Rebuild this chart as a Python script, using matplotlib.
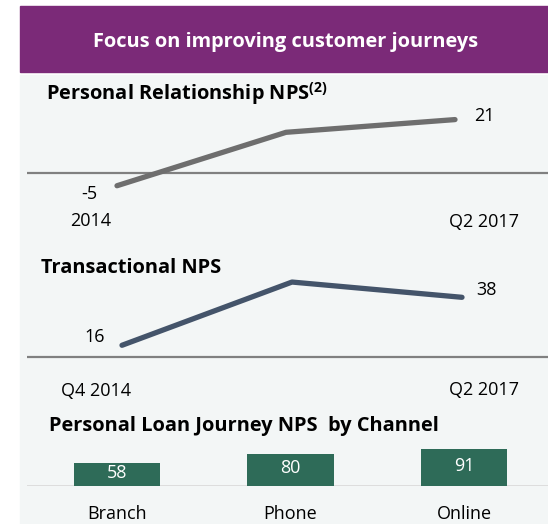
import matplotlib.pyplot as plt
from matplotlib.patches import Rectangle

FONT = 'Open Sans'
plt.rcParams['font.family'] = [FONT, 'DejaVu Sans']
plt.rcParams['mathtext.fontset'] = 'custom'
plt.rcParams['mathtext.rm'] = FONT
plt.rcParams['mathtext.bf'] = FONT + ':bold'

# данные
header = "Focus on improving customer journeys"

rel_title = r"Personal Relationship NPS$^{\mathbf{(2)}}$"
rel_values = [-5, 16, 21]
rel_start, rel_end = "2014", "Q2 2017"

trans_title = "Transactional NPS"
trans_values = [16, 45, 38]
trans_start, trans_end = "Q4 2014", "Q2 2017"
trans_axis_min = 10.5

loan_title = "Personal Loan Journey NPS  by Channel"
channels = ["Branch", "Phone", "Online"]
loan_values = [58, 80, 91]

W, H = 548, 524
fig = plt.figure(figsize=(W / 100, H / 100), dpi=100)
fig.patch.set_facecolor('white')

PURPLE = '#7b2a78'
PANEL = '#f3f6f6'
fig.patches.append(Rectangle((20 / W, 1 - 72 / H), 1 - 20 / W, 66 / H,
                             transform=fig.transFigure, color=PURPLE, zorder=-2))
fig.patches.append(Rectangle((20 / W, 0), 1 - 20 / W, 1 - 75 / H,
                             transform=fig.transFigure, color=PANEL, zorder=-2))
fig.text(286 / W, 1 - 47 / H, header, color='white', fontsize=14.4,
         fontweight='bold', ha='center', va='baseline')

AX_L, AX_R = 27, 548
xs = [0, 1, 2]
FS = 13
TS = 14.4
LW = 3.8


def make_ax(top_px, bottom_px, x0, step):
    ax = fig.add_axes([AX_L / W, 1 - bottom_px / H, (AX_R - AX_L) / W,
                       (bottom_px - top_px) / H])
    ax.set_xlim((AX_L - x0) / step, (AX_R - x0) / step)
    ax.axis('off')
    return ax


def tx(ax, x_px, y, s, **kw):
    # x в пикселях фигуры, y в данных
    x0, x1 = ax.get_xlim()
    x = x0 + (x_px - AX_L) / (AX_R - AX_L) * (x1 - x0)
    kw.setdefault('fontsize', FS)
    ax.text(x, y, s, ha='center', va='center', clip_on=False, **kw)


# 1. Personal Relationship NPS
ax1 = make_ax(100, 230, 117, 169)
ax1.set_ylim(-22.4, 28.7)
ax1.axhline(0, color='#808080', lw=1.6, zorder=1)
ax1.plot(xs, rel_values, color='#6e6e6e', lw=LW, solid_capstyle='round', zorder=2)
tx(ax1, 89, rel_values[0] - 3.2, str(rel_values[0]))
tx(ax1, 484, rel_values[-1] + 1.6, str(rel_values[-1]))
tx(ax1, 91, -18.9, rel_start)
tx(ax1, 484, -19.3, rel_end)
fig.text(46 / W, 1 - 100 / H, rel_title, fontsize=TS, fontweight='bold', va='baseline')

# 2. Transactional NPS
ax2 = make_ax(250, 400, 122, 170)
ax2.set_ylim(-9.1, 59.7)
ax2.axhline(trans_axis_min, color='#808080', lw=1.6, zorder=1)
ax2.plot(xs, trans_values, color='#44546a', lw=LW, solid_capstyle='round', zorder=2)
tx(ax2, 95, trans_values[0] + 3.7, str(trans_values[0]))
tx(ax2, 486, trans_values[-1] + 3.2, str(trans_values[-1]))
tx(ax2, 96, -4.8, trans_start)
tx(ax2, 484, -4.3, trans_end)
fig.text(41 / W, 1 - 273 / H, trans_title, fontsize=TS, fontweight='bold', va='baseline')

# 3. Personal Loan Journey NPS by Channel
ax3 = make_ax(440, 486, 117, 173.5)
ax3.set_ylim(0, 46 / 0.405)
ax3.axhline(0, color='#d6d6d6', lw=1.8, zorder=1)
bars = ax3.bar(xs, loan_values, width=0.5, color='#2e6b58', zorder=2)
for bar, v in zip(bars, loan_values):
    ax3.text(bar.get_x() + bar.get_width() / 2, v / 2 + 4, str(v), color='white',
             fontsize=FS, ha='center', va='center', zorder=3)
for x, name in zip(xs, channels):
    ax3.text(x, -69, name, fontsize=FS, ha='center', va='center', clip_on=False)
fig.text(49 / W, 1 - 431 / H, loan_title, fontsize=TS, fontweight='bold', va='baseline')

fig.savefig('out.png', dpi=100)
